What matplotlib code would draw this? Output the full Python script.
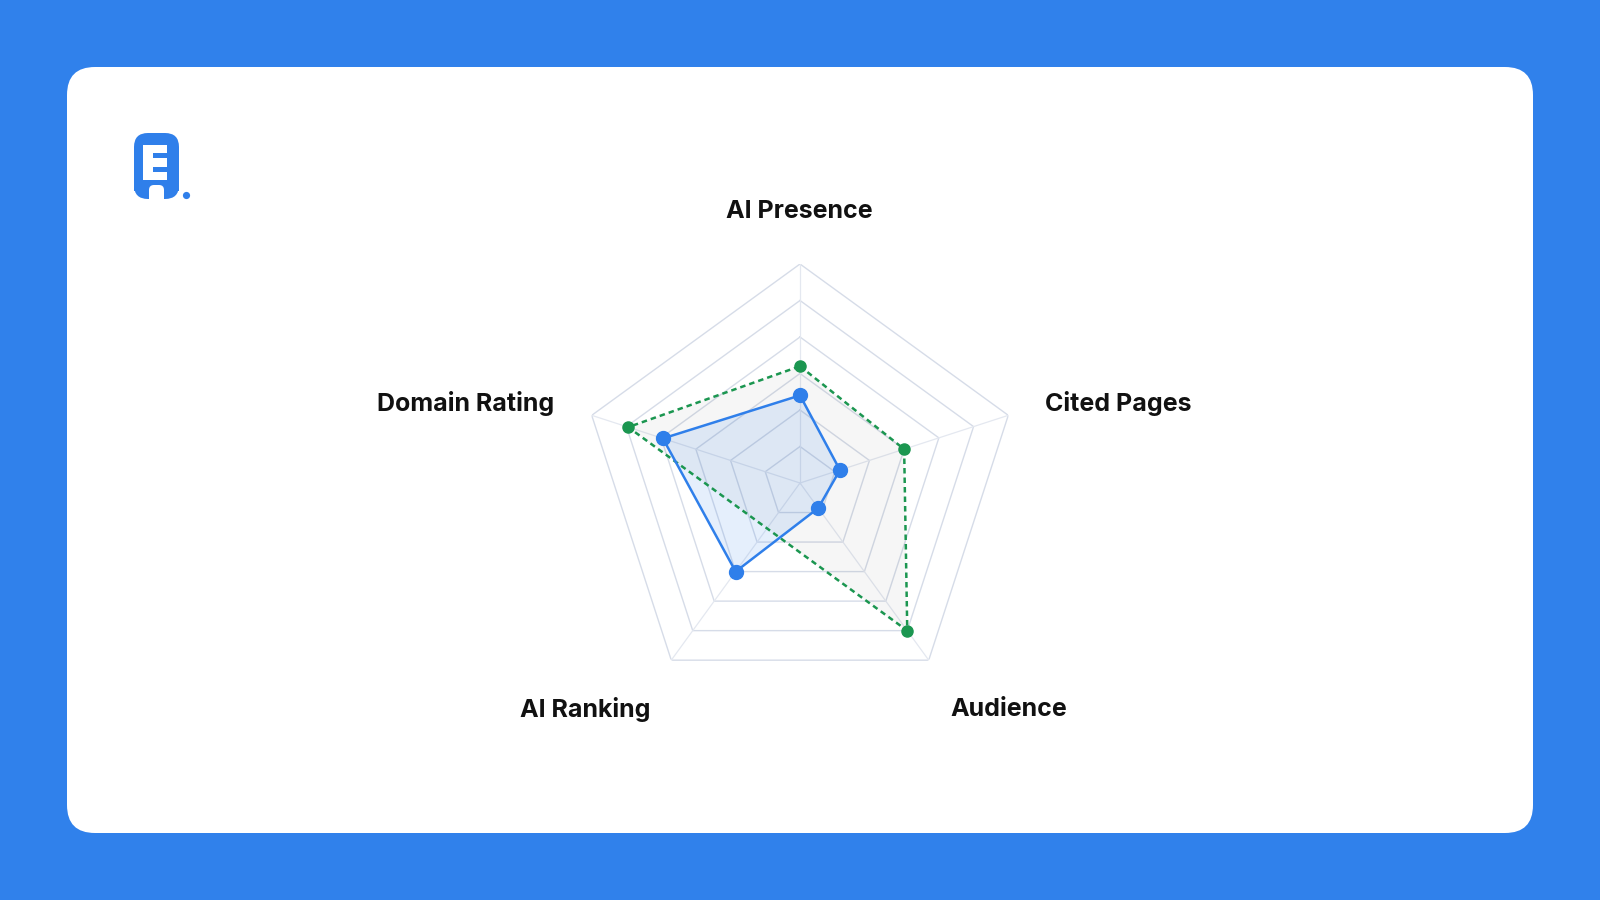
import numpy as np
import matplotlib
matplotlib.use("Agg")
from matplotlib import pyplot as plt
from matplotlib.patches import FancyBboxPatch, Rectangle, Circle

# chart data
categories = ["AI Presence", "Cited Pages", "Audience", "AI Ranking", "Domain Rating"]
blue_values = [24, 11.5, 8.5, 30, 39.5]
green_values = [32, 30, 50, None, 49.5]   # no value for AI Ranking -> line spans the gap
scale_max = 60
ring_steps = [10, 20, 30, 40, 50, 60]

BG_BLUE = "#3081EB"
LINE_BLUE = "#2F7FEA"
GREEN = "#1B9650"
GRID = "#D6DCE8"

plt.rcParams['font.family'] = ['Inter', 'DejaVu Sans']

fig = plt.figure(figsize=(16, 9), dpi=100)
fig.patch.set_facecolor(BG_BLUE)

# background axes in pixel coordinates
bg = fig.add_axes([0, 0, 1, 1])
bg.set_xlim(0, 1600)
bg.set_ylim(900, 0)
bg.axis("off")

card = FancyBboxPatch((67, 67), 1466, 766, boxstyle="round,pad=0,rounding_size=28",
                      facecolor="white", edgecolor="none")
bg.add_patch(card)

# logo
logo = FancyBboxPatch((134, 133), 45, 66, boxstyle="round,pad=0,rounding_size=14",
                      facecolor=LINE_BLUE, edgecolor="none")
bg.add_patch(logo)
bg.add_patch(Rectangle((134, 185), 45, 6, facecolor=LINE_BLUE, edgecolor="none"))
bg.add_patch(Rectangle((143, 145), 24, 35, facecolor="white", edgecolor="none"))
bg.add_patch(Rectangle((153, 153), 14, 5, facecolor=LINE_BLUE, edgecolor="none"))
bg.add_patch(Rectangle((153, 167), 14, 5, facecolor=LINE_BLUE, edgecolor="none"))
bg.add_patch(FancyBboxPatch((149, 185), 15, 12, boxstyle="round,pad=0,rounding_size=5",
                            facecolor="white", edgecolor="none"))
bg.add_patch(Rectangle((149, 191), 15, 9, facecolor="white", edgecolor="none"))
bg.add_patch(Circle((186.5, 195.5), 3.6, facecolor=LINE_BLUE, edgecolor="none"))

# radar axes
cx, cy, R = 800, 483, 219
ax = fig.add_axes([(cx - R) / 1600, (900 - cy - R) / 900, 2 * R / 1600, 2 * R / 900],
                  projection="polar")
ax.set_theta_offset(np.pi / 2)
ax.set_theta_direction(-1)
ax.set_ylim(0, scale_max)
ax.set_facecolor("none")
ax.spines["polar"].set_visible(False)
ax.grid(False)
ax.set_xticks([])
ax.set_yticks([])

n = len(categories)
angles = np.arange(n) * 2 * np.pi / n
closed = np.append(angles, angles[0])

for r in ring_steps:
    ax.plot(closed, [r] * (n + 1), color=GRID, lw=1.0, zorder=1)
for a in angles:
    ax.plot([a, a], [0, scale_max], color="#E4E8F0", lw=0.9, zorder=1)

# green series (skip missing value)
g_ang = [a for a, v in zip(angles, green_values) if v is not None]
g_val = [v for v in green_values if v is not None]
g_ang_c = g_ang + [g_ang[0]]
g_val_c = g_val + [g_val[0]]
ax.fill(g_ang_c, g_val_c, color="#000000", alpha=0.035, lw=0, zorder=2)
ax.plot(g_ang_c, g_val_c, color=GREEN, lw=1.8, ls=(0, (2.2, 1.6)), zorder=4)
ax.plot(g_ang, g_val, ls="none", marker="o", ms=8, color=GREEN, zorder=5)

# blue series
b_ang_c = np.append(angles, angles[0])
b_val_c = blue_values + [blue_values[0]]
ax.fill(b_ang_c, b_val_c, color=LINE_BLUE, alpha=0.12, lw=0, zorder=3)
ax.plot(b_ang_c, b_val_c, color=LINE_BLUE, lw=1.8, zorder=4)
ax.plot(angles, blue_values, ls="none", marker="o", ms=10, color=LINE_BLUE, zorder=6)

# axis labels
label_style = dict(fontsize=18, fontweight="bold", color="#111111", va="center")
bg.text(799, 211, categories[0], ha="center", **label_style)
bg.text(1045, 404, categories[1], ha="left", **label_style)
bg.text(1009, 710, categories[2], ha="center", **label_style)
bg.text(585, 710, categories[3], ha="center", **label_style)
bg.text(554, 404, categories[4], ha="right", **label_style)

fig.savefig("out.png", dpi=100, facecolor=fig.get_facecolor())
